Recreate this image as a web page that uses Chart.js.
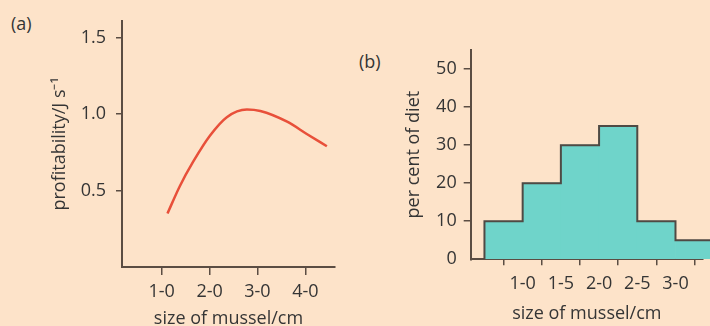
<!DOCTYPE html>
<html>
<head>
<meta charset="utf-8">
<script src="https://cdn.jsdelivr.net/npm/chart.js@4/dist/chart.umd.min.js"></script>
<style>
    html, body {
        margin: 0;
        padding: 0;
        width: 710px;
        height: 326px;
        overflow: hidden;
        background: #fde3c9;
        font-family: "Open Sans", sans-serif;
    }
    .panel {
        position: absolute;
        top: 0;
    }
    .tag {
        position: absolute;
        font-size: 18px;
        line-height: 1;
        color: #353535;
    }
</style>
</head>
<body>
<div class="tag" style="left:11px; top:14px;">(a)</div>
<div class="tag" style="left:359px; top:52px;">(b)</div>
<div class="panel" style="left:0;"><canvas id="chartA" width="350" height="340"></canvas></div>
<div class="panel" style="left:350px;"><canvas id="chartB" width="360" height="340"></canvas></div>
<script>
// (a) profitability curve
var sizeA = [1.12, 1.38, 1.66, 2.01, 2.36, 2.78, 3.06, 3.62, 4.03, 4.45];
var profitA = [0.35, 0.53, 0.69, 0.86, 0.98, 1.03, 1.02, 0.95, 0.87, 0.79];
var xTicksA = [1, 2, 3, 4];
var xLabelsA = ["1-0", "2-0", "3-0", "4-0"];
var yTicksA = [0.5, 1.0, 1.5];

// (b) histogram, bins are 0.5 cm wide
var binStartsB = [0.5, 1.0, 1.5, 2.0, 2.5, 3.0];
var percentB = [10, 20, 30, 35, 10, 5];
var xTicksB = [1.0, 1.5, 2.0, 2.5, 3.0];
var xLabelsB = ["1-0", "1-5", "2-0", "2-5", "3-0"];
var yTicksB = [0, 10, 20, 30, 40, 50];

var binWidth = 0.5;
var axisColor = "#5b4d43";
var textColor = "#353535";
var font = { family: "'Open Sans', sans-serif", size: 18 };

function axisStyle(tickLength) {
    return {
        grid: {
            display: true,
            drawOnChartArea: false,
            drawTicks: true,
            tickLength: tickLength,
            // no tick mark on the zero corner
            tickColor: ctx => (ctx.tick && ctx.tick.value === 0) ? "rgba(0,0,0,0)" : axisColor,
            color: axisColor,
            lineWidth: 1.5
        },
        border: { display: true, color: axisColor, width: 2 }
    };
}

new Chart(document.getElementById("chartA"), {
    type: "line",
    data: {
        datasets: [{
            data: sizeA.map((x, i) => ({ x: x, y: profitA[i] })),
            borderColor: "#e8503a",
            borderWidth: 2.5,
            pointRadius: 0,
            cubicInterpolationMode: "monotone",
            fill: false
        }]
    },
    options: {
        responsive: false,
        animation: false,
        layout: { padding: { top: 12, right: 15, left: 0, bottom: 0 } },
        plugins: { legend: { display: false }, tooltip: { enabled: false } },
        scales: {
            x: {
                type: "linear",
                min: 0.17,
                max: 4.62,
                offset: false,
                ...axisStyle(8),
                afterBuildTicks: s => { s.ticks = xTicksA.map(v => ({ value: v })); },
                afterFit: s => { s.height = 73; },
                ticks: {
                    autoSkip: false,
                    maxRotation: 0,
                    padding: 6,
                    color: textColor,
                    font: font,
                    callback: v => xLabelsA[xTicksA.indexOf(v)]
                },
                title: {
                    display: true,
                    text: "size of mussel/cm",
                    color: textColor,
                    font: font,
                    padding: { top: 0, bottom: 10 }
                }
            },
            y: {
                type: "linear",
                min: 0,
                max: 1.61,
                ...axisStyle(6),
                afterBuildTicks: s => { s.ticks = yTicksA.map(v => ({ value: v })); },
                afterFit: s => { s.width = 122; },
                ticks: {
                    padding: 10,
                    color: textColor,
                    font: font,
                    callback: v => v.toFixed(1)
                },
                title: {
                    display: true,
                    text: "profitability/J s\u207B\u00B9",
                    color: textColor,
                    font: font,
                    padding: { top: 49, bottom: 0 }
                }
            }
        }
    }
});

// step outline around the histogram
var outlineB = [{ x: binStartsB[0], y: 0 }];
binStartsB.forEach((start, i) => {
    outlineB.push({ x: start, y: percentB[i] });
    outlineB.push({ x: start + binWidth, y: percentB[i] });
});

new Chart(document.getElementById("chartB"), {
    type: "bar",
    data: {
        datasets: [
            {
                type: "line",
                order: 0,
                data: outlineB,
                borderColor: "#4f4a44",
                borderWidth: 2,
                pointRadius: 0,
                tension: 0,
                fill: false,
                clip: false
            },
            {
                type: "bar",
                order: 1,
                data: binStartsB.map((start, i) => ({ x: start + binWidth / 2, y: percentB[i] })),
                backgroundColor: "#6fd4ca",
                borderWidth: 0,
                barPercentage: 1,
                categoryPercentage: 1,
                clip: false
            }
        ]
    },
    options: {
        responsive: false,
        animation: false,
        layout: { padding: { top: 50, right: 7, left: 0, bottom: 0 } },
        plugins: { legend: { display: false }, tooltip: { enabled: false } },
        scales: {
            x: {
                type: "linear",
                min: 0.32,
                max: 3.36,
                offset: false,
                ...axisStyle(6),
                afterBuildTicks: s => { s.ticks = xTicksB.map(v => ({ value: v })); },
                afterFit: s => { s.height = 80.7; },
                ticks: {
                    autoSkip: false,
                    maxRotation: 0,
                    padding: 8,
                    color: textColor,
                    font: font,
                    callback: v => xLabelsB[xTicksB.indexOf(v)]
                },
                title: {
                    display: true,
                    text: "size of mussel/cm",
                    color: textColor,
                    font: font,
                    padding: { top: 0, bottom: 15 }
                }
            },
            y: {
                type: "linear",
                min: 0,
                max: 55,
                ...axisStyle(7),
                afterBuildTicks: s => { s.ticks = yTicksB.map(v => ({ value: v })); },
                afterFit: s => { s.width = 120.7; },
                ticks: {
                    padding: 7,
                    color: textColor,
                    font: font
                },
                title: {
                    display: true,
                    text: "per cent of diet",
                    color: textColor,
                    font: font,
                    padding: { top: 53, bottom: 0 }
                }
            }
        }
    }
});
</script>
</body>
</html>
